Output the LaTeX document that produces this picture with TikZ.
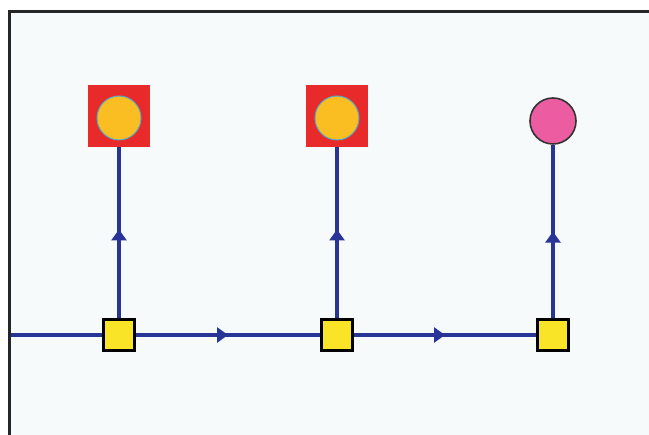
\documentclass[tikz,border=0pt]{standalone}
\usetikzlibrary{arrows.meta,decorations.markings,backgrounds}
\definecolor{bg}{RGB}{246,250,251}
\definecolor{linkblue}{RGB}{40,52,150}
\definecolor{sqyellow}{RGB}{250,228,40}
\definecolor{tokred}{RGB}{232,42,42}
\definecolor{tokorange}{RGB}{250,190,35}
\definecolor{tokcyan}{RGB}{80,170,200}
\definecolor{tokpink}{RGB}{236,92,160}
\begin{document}
\begin{tikzpicture}[x=1pt,y=-1pt,
  junction/.style={draw=black,line width=2.2pt,fill=sqyellow,minimum size=31pt,inner sep=0pt},
  redbox/.style={fill=tokred,minimum size=62pt,inner sep=0pt},
  orangedot/.style={circle,draw=tokcyan,line width=1pt,fill=tokorange,minimum size=44pt,inner sep=0pt},
  pinkdot/.style={circle,draw=black!80,line width=1.6pt,fill=tokpink,minimum size=46pt,inner sep=0pt},
  link/.style={draw=linkblue,line width=4.5pt,postaction={decorate},
    decoration={markings,mark=at position 0.5 with {\arrow[linkblue]{Triangle[width=15pt,length=11pt]}}}},
  plainlink/.style={draw=linkblue,line width=4.5pt}]
\useasboundingbox (0,0) rectangle (649,435);
% nodes
\node[redbox] (r1) at (119,116) {};
\node[redbox] (r2) at (337,116) {};
\node[orangedot] (o1) at (119,118) {};
\node[orangedot] (o2) at (337,118) {};
\node[pinkdot] (p3) at (553,121) {};
\coordinate (start) at (10.5,335);
\node[junction] (s1) at (119,335) {};
\node[junction] (s2) at (337,335) {};
\node[junction] (s3) at (553,335) {};
\begin{scope}[on background layer]
\fill[white] (0,0) rectangle (649,435);
\fill[bg] (9,12) rectangle (649,435);
\draw[black!85,line width=3pt] (9,435) -- (9,11.5) -- (649,11.5);
% connectors
\draw[plainlink] (start) -- (s1.center);
\draw[link] (s1.east) -- (s2.west);
\draw[plainlink] (s2.west) -- (s2.center) -- (s2.east);
\draw[link] (s2.east) -- (s3.west);
\draw[link] (s1.north) -- (o1.south);
\draw[link] (s2.north) -- (o2.south);
\draw[link] (s3.north) -- (p3.south);
\end{scope}
\end{tikzpicture}
\end{document}
